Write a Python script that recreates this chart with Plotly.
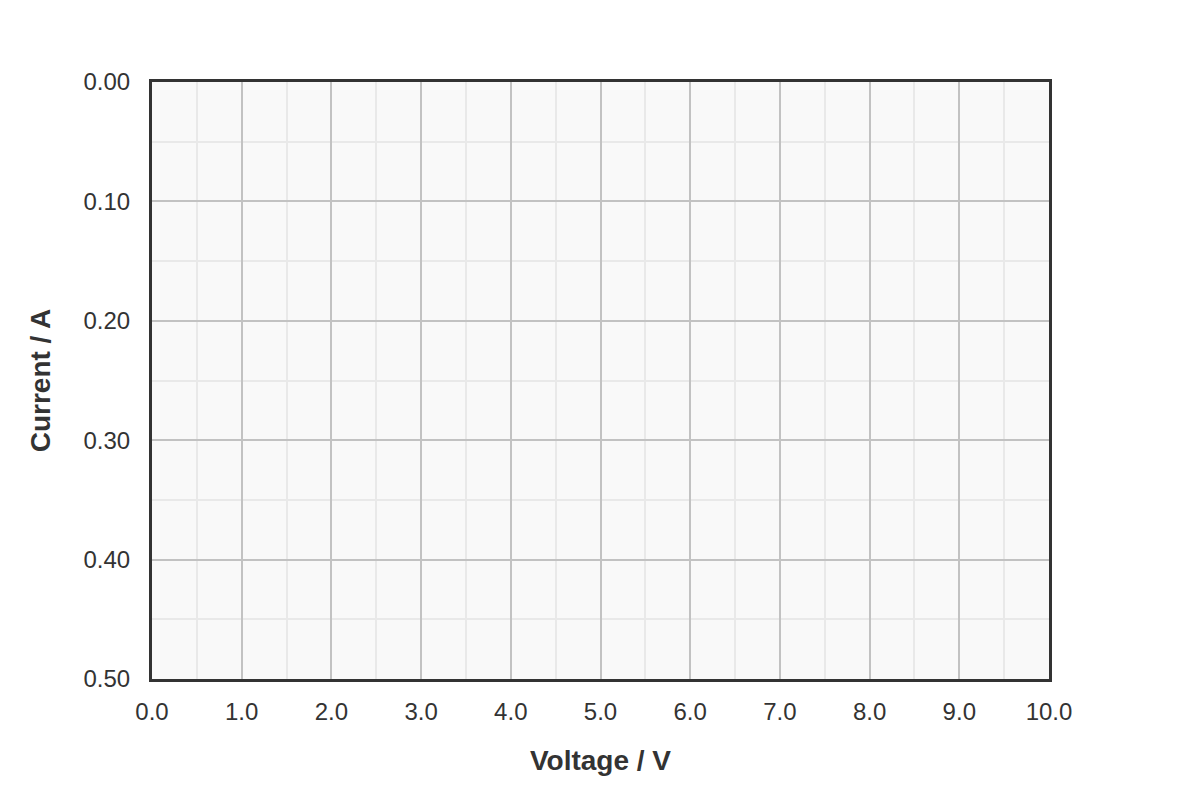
import plotly.graph_objects as go

# Achsenbereiche und Ticks (leeres Diagramm zum Eintragen von Messwerten)
voltage_range = [0.0, 10.0]
current_range = [0.50, 0.00]
voltage_ticks = [0.0, 1.0, 2.0, 3.0, 4.0, 5.0, 6.0, 7.0, 8.0, 9.0, 10.0]
current_ticks = [0.00, 0.10, 0.20, 0.30, 0.40, 0.50]
voltage_labels = [f"{v:.1f}" for v in voltage_ticks]
current_labels = [f"{c:.2f}" for c in current_ticks]

fig = go.Figure(go.Scatter(x=[], y=[], mode="markers", showlegend=False))

font = "Liberation Sans, Arial, sans-serif"

# Ränder so gewählt, dass die Zeichenfläche im Screenshot bei 150..1050 / 80..680 liegt
fig.update_layout(
    width=1200,
    height=800,
    margin=dict(l=144, r=159, t=74, b=129),
    paper_bgcolor="white",
    plot_bgcolor="#f9f9f9",
    font=dict(family=font, size=24, color="#333333"),
    showlegend=False,
)

fig.update_xaxes(
    range=voltage_range,
    tickvals=voltage_ticks,
    ticktext=voltage_labels,
    ticks="",
    ticklabelstandoff=9,
    showgrid=True,
    gridcolor="#c2c2c2",
    gridwidth=2,
    minor=dict(dtick=0.5, showgrid=True, gridcolor="#e9e9e9", gridwidth=2),
    showline=True,
    linecolor="#333333",
    linewidth=3,
    mirror=True,
    zeroline=False,
    title=dict(text="<b>Voltage / V</b>", font=dict(size=28, color="#333333"), standoff=27),
)

fig.update_yaxes(
    range=current_range,
    tickvals=current_ticks,
    ticktext=current_labels,
    ticks="",
    ticklabelstandoff=14,
    showgrid=True,
    gridcolor="#c2c2c2",
    gridwidth=2,
    minor=dict(dtick=0.05, showgrid=True, gridcolor="#e9e9e9", gridwidth=2),
    showline=True,
    linecolor="#333333",
    linewidth=3,
    mirror=True,
    zeroline=False,
    title=dict(text="<b>Current / A</b>", font=dict(size=28, color="#333333"), standoff=25),
)

fig.write_html("out.html")
